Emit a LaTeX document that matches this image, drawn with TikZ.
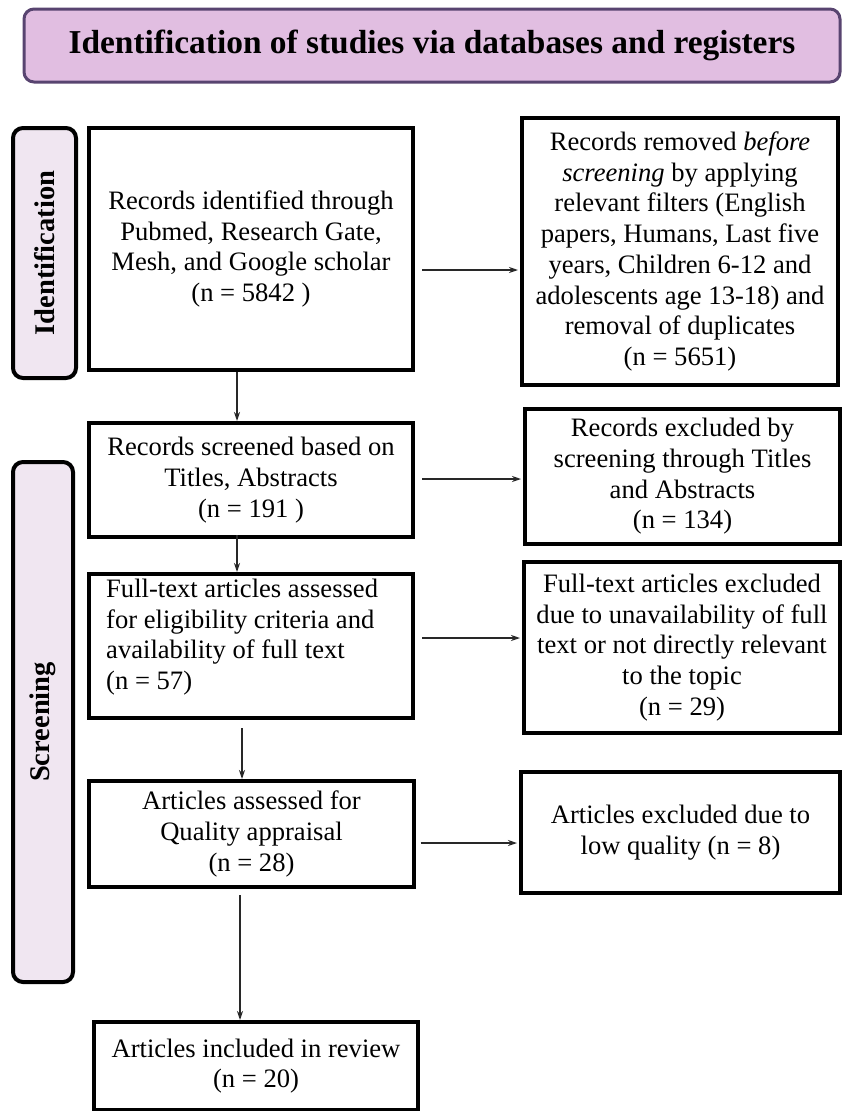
\documentclass[tikz,border=0pt]{standalone}
\usepackage{fontspec}
\setmainfont{Liberation Serif}
\usetikzlibrary{arrows.meta}
\definecolor{hdrfill}{RGB}{225,190,225}
\definecolor{hdrline}{RGB}{88,68,112}
\definecolor{labfill}{RGB}{240,230,241}
\definecolor{arrcol}{RGB}{40,40,40}
\begin{document}
\begin{tikzpicture}[x=1pt,y=-1pt,
  box/.style={draw=black, line width=4pt, fill=white, inner sep=0pt, align=center,
    font=\fontsize{26.6}{30.7}\selectfont},
  lab/.style={draw=black, line width=4pt, fill=labfill, rounded corners=10pt, inner sep=0pt},
  labtxt/.style={rotate=90, inner sep=0pt, font=\fontsize{28.5}{32}\selectfont\bfseries},
  arr/.style={draw=arrcol, line width=1.5pt, -{Stealth[length=9pt,width=6pt]}}]
\useasboundingbox (0,0) rectangle (842,1111);
\fill[white] (0,0) rectangle (842,1111);

% header
\node[draw=hdrline, line width=3pt, fill=hdrfill, rounded corners=10pt, inner sep=0pt,
  minimum width=816pt, minimum height=73pt,
  font=\fontsize{33.4}{38}\selectfont\bfseries] (hdr) at (432,45.5)
  {Identification of studies via databases and registers};

% side labels
\node[lab, minimum width=63pt, minimum height=250pt] (idlab) at (44.5,253) {};
\node[labtxt] (idtxt) at (idlab.center) {Identification};
\node[lab, minimum width=60pt, minimum height=520pt] (scrlab) at (43,722) {};
\node[labtxt] (scrtxt) at (scrlab.center) {Screening};

% left column
\node[box, minimum width=324pt, minimum height=242pt] (b1) at (251,249)
  {Records identified through\\Pubmed, Research Gate,\\Mesh, and Google scholar\\(n = 5842 )};
\node[box, minimum width=324pt, minimum height=114pt] (b2) at (251,480)
  {Records screened based on\\Titles, Abstracts\\(n = 191 )};
\node[box, minimum width=324pt, minimum height=144pt] (b3) at (251,646) {};
\node[inner sep=0pt, align=left, anchor=west, font=\fontsize{26.6}{30.7}\selectfont]
  (b3t) at (106,637)
  {Full-text articles assessed\\for eligibility criteria and\\availability of full text\\(n = 57)};
\node[box, minimum width=325pt, minimum height=106pt] (b4) at (251.5,834)
  {Articles assessed for\\Quality appraisal\\(n = 28)};
\node[box, minimum width=324pt, minimum height=88pt] (b5) at (256,1066)
  {Articles included in review\\(n = 20)};

% right column
\node[box, minimum width=316pt, minimum height=267pt] (r1) at (680,251.5)
  {Records removed \textit{before}\\\textit{screening} by applying\\relevant filters (English\\papers, Humans, Last five\\years, Children 6-12 and\\adolescents age 13-18) and\\removal of duplicates\\(n = 5651)};
\node[box, minimum width=315pt, minimum height=135pt] (r2) at (682.5,476.5)
  {Records excluded by\\screening through Titles\\and Abstracts\\(n = 134)};
\node[box, minimum width=316pt, minimum height=171pt] (r3) at (682,647.5)
  {Full-text articles excluded\\due to unavailability of full\\text or not directly relevant\\to the topic\\(n = 29)};
\node[box, minimum width=319pt, minimum height=121pt] (r4) at (680.5,832.5)
  {Articles excluded due to\\low quality (n = 8)};

% vertical arrows
\draw[arr] ([xshift=-14pt]b1.south) -- ([xshift=-14pt]b2.north);
\draw[arr] ([xshift=-14pt,yshift=4pt]b2.south) -- ([xshift=-14pt]b3.north);
\draw[arr] ([xshift=-9pt,yshift=-8pt]b3.south) -- ([xshift=-9pt]b3.south |- b4.north);
\draw[arr] ([xshift=-11.5pt,yshift=-6pt]b4.south) -- ([xshift=-11.5pt]b4.south |- b5.north);

% horizontal arrows
\coordinate (h1) at ([xshift=7pt,yshift=-21pt]b1.east);
\draw[arr] (h1) -- ([xshift=-2pt]h1 -| r1.west);
\coordinate (h2) at ([xshift=7pt,yshift=1pt]b2.east);
\draw[arr] (h2) -- ([xshift=-2pt]h2 -| r2.west);
\coordinate (h3) at ([xshift=7pt,yshift=8pt]b3.east);
\draw[arr] (h3) -- ([xshift=-2pt]h3 -| r3.west);
\coordinate (h4) at ([xshift=4.5pt,yshift=-9pt]b4.east);
\draw[arr] (h4) -- ([xshift=-2pt]h4 -| r4.west);
\end{tikzpicture}
\end{document}
